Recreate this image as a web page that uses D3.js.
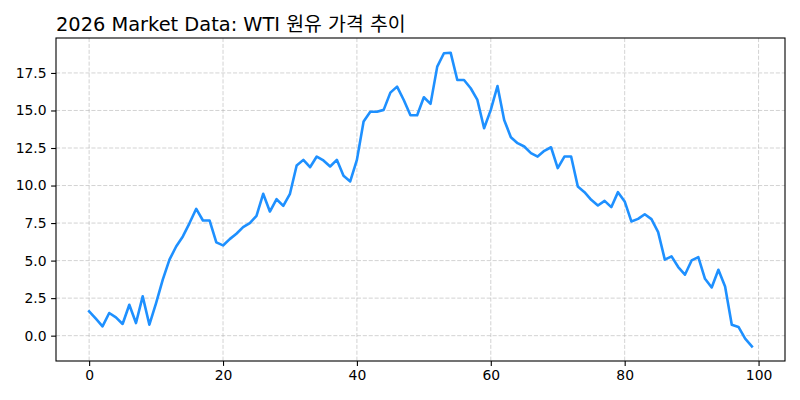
<!DOCTYPE html>
<html><head><meta charset="utf-8">
<script src="https://cdn.jsdelivr.net/npm/d3@7"></script>
<style>body{margin:0;background:#fff}svg{display:block}</style>
</head><body>
<svg id="chart" width="800" height="400"></svg>
<script>
const titleText = "2026 Market Data: WTI 원유 가격 추이";
const xValues = d3.range(100);
const prices = [
 1.62, 1.13, 0.62, 1.51, 1.22, 0.78, 2.06, 0.84, 2.62, 0.73,
 2.17, 3.73, 5.06, 5.94, 6.61, 7.50, 8.45, 7.67, 7.67, 6.21,
 6.01, 6.43, 6.79, 7.23, 7.50, 7.98, 9.45, 8.27, 9.09, 8.65,
 9.45, 11.33, 11.71, 11.22, 11.93, 11.67, 11.27, 11.71, 10.65, 10.27,
 11.71, 14.26, 14.92, 14.92, 15.04, 16.19, 16.59, 15.70, 14.68, 14.68,
 15.88, 15.44, 17.92, 18.81, 18.85, 17.03, 17.03, 16.48, 15.70, 13.82,
 15.04, 16.63, 14.37, 13.22, 12.82, 12.60, 12.16, 11.93, 12.31, 12.55,
 11.16, 11.93, 11.93, 9.93, 9.56, 9.05, 8.67, 8.98, 8.56, 9.56,
 8.94, 7.61, 7.78, 8.09, 7.76, 6.90, 5.06, 5.28, 4.57, 4.06,
 5.01, 5.23, 3.79, 3.21, 4.39, 3.28, 0.73, 0.58, -0.20, -0.71
];
const xTicks = [0, 20, 40, 60, 80, 100];
const yTicks = [0, 2.5, 5, 7.5, 10, 12.5, 15, 17.5];

const svg = d3.select("#chart");
const L = 56, R = 785, T = 38, B = 361;
const xMin = d3.min(xValues), xMax = d3.max(xValues), xPad = (xMax - xMin) * 0.05;
const yMin = d3.min(prices), yMax = d3.max(prices), yPad = (yMax - yMin) * 0.05;
const x = d3.scaleLinear().domain([xMin - xPad, xMax + xPad]).range([L, R]);
const y = d3.scaleLinear().domain([yMin - yPad, yMax + yPad]).range([B, T]);

const font = "'DejaVu Sans', sans-serif";

// grid
const grid = svg.append("g").attr("stroke", "#b0b0b0").attr("stroke-opacity", 0.7)
  .attr("stroke-width", 0.8).attr("stroke-dasharray", "4.1,1.8");
grid.selectAll(".gx").data(xTicks).join("line")
  .attr("x1", d => x(d)).attr("x2", d => x(d)).attr("y1", T).attr("y2", B);
grid.selectAll(".gy").data(yTicks).join("line")
  .attr("x1", L).attr("x2", R).attr("y1", d => y(d)).attr("y2", d => y(d));

// line
const line = d3.line().x((d, i) => x(xValues[i])).y(d => y(d));
svg.append("path").datum(prices).attr("d", line).attr("fill", "none")
  .attr("stroke", "#1E90FF").attr("stroke-width", 2.6)
  .attr("stroke-linejoin", "round").attr("stroke-linecap", "square");

// axes
const xAxis = d3.axisBottom(x).tickValues(xTicks).tickFormat(d3.format("d"))
  .tickSize(4.9).tickPadding(4.5);
const yAxis = d3.axisLeft(y).tickValues(yTicks).tickFormat(d3.format(".1f"))
  .tickSize(4.9).tickPadding(4.5);
const gx = svg.append("g").attr("transform", `translate(0,${B})`).call(xAxis);
const gy = svg.append("g").attr("transform", `translate(${L},0)`).call(yAxis);
[gx, gy].forEach(g => {
  g.select(".domain").remove();
  g.selectAll(".tick line").attr("stroke", "#000").attr("stroke-width", 1.1);
  g.selectAll(".tick text").attr("fill", "#000").style("font-family", font).style("font-size", "13.9px");
});

// spines
svg.append("rect").attr("x", L).attr("y", T).attr("width", R - L).attr("height", B - T)
  .attr("fill", "none").attr("stroke", "#000").attr("stroke-width", 1.1);

// title
svg.append("text").attr("x", L).attr("y", 30.5).text(titleText)
  .style("font-family", font + ", 'Noto Sans CJK KR'").style("font-size", "19.4px").attr("fill", "#000");
</script>
</body></html>
